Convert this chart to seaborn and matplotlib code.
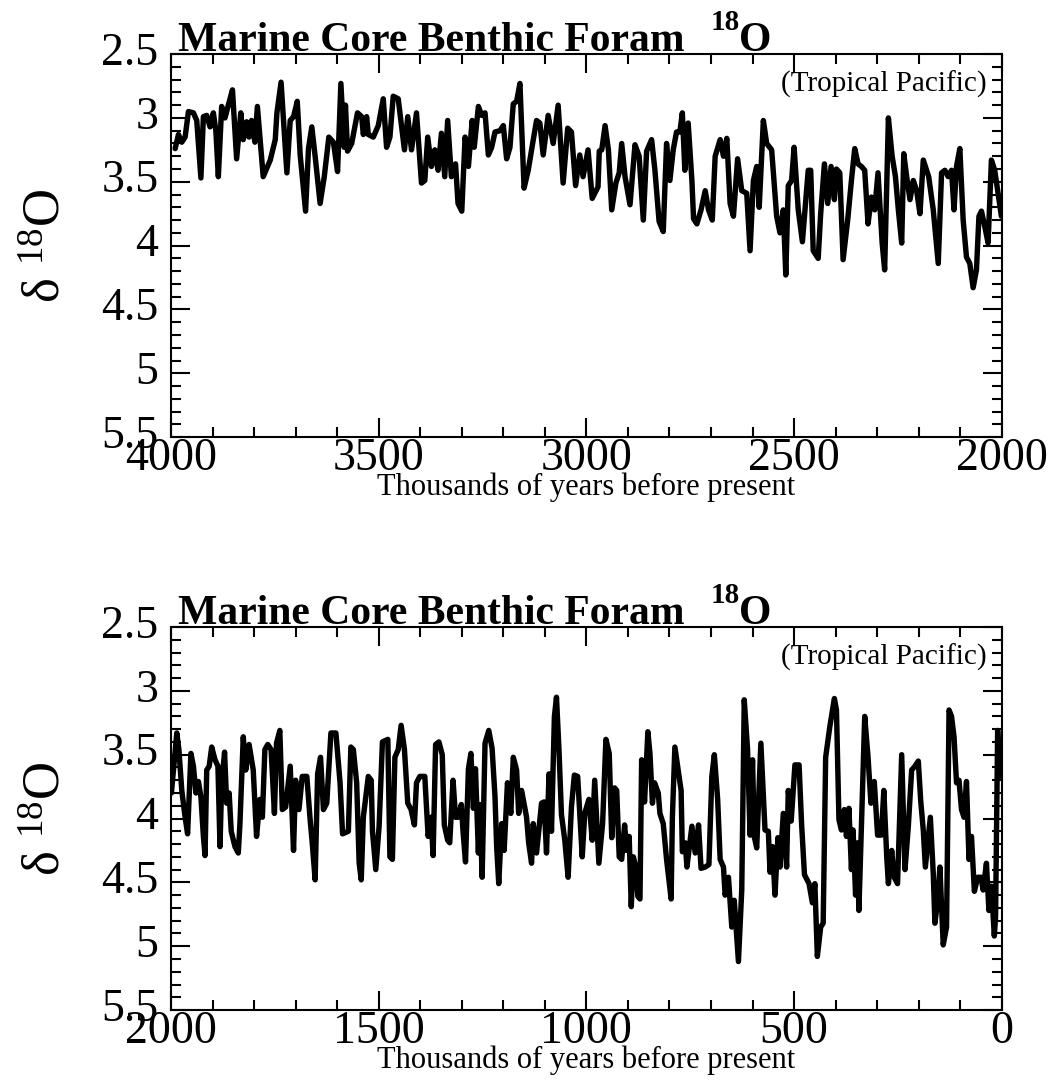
import matplotlib
matplotlib.use("Agg")
import matplotlib.pyplot as plt
import matplotlib.transforms as mtransforms
from matplotlib.ticker import MultipleLocator
import numpy as np
import pandas as pd
import seaborn as sns

# Benthic foraminifera d18O, older interval (thousands of years before present)
age_old = [3990, 3982, 3974, 3966, 3958, 3946, 3938, 3928, 3922, 3914, 3906, 3898, 3892, 3886,
           3878, 3870, 3862, 3852, 3842, 3832, 3826, 3818, 3812, 3806, 3798, 3792, 3786, 3778,
           3761, 3749, 3745, 3735, 3721, 3713, 3705, 3696, 3689, 3676, 3669, 3661, 3653, 3641,
           3631, 3620, 3609, 3599, 3591, 3583, 3580, 3575, 3565, 3551, 3541, 3537, 3529, 3525,
           3513, 3501, 3489,
           3481, 3473, 3465, 3453, 3438, 3430, 3421, 3409, 3397, 3389, 3382, 3373, 3365, 3357,
           3349, 3341, 3334, 3325, 3315, 3309, 3300, 3292, 3284, 3275, 3270, 3260, 3252, 3244,
           3236, 3228, 3220, 3208, 3200, 3192, 3184, 3176, 3168, 3160, 3150, 3140, 3132, 3120,
           3112, 3104, 3092, 3080, 3068, 3056, 3045, 3036, 3026, 3016, 3008, 2996, 2986, 2972,
           2969, 2963, 2955, 2947, 2939, 2929, 2921, 2915, 2907, 2895, 2883, 2873, 2863, 2855,
           2843, 2835, 2825, 2815, 2807, 2799, 2791, 2783, 2775, 2769, 2763, 2755, 2746, 2742,
           2734, 2724, 2714, 2706, 2697, 2690, 2678, 2670, 2662, 2654, 2646, 2636, 2626, 2614,
           2606, 2598, 2590, 2584, 2574, 2566, 2554, 2542, 2534, 2526, 2520, 2514, 2506, 2500,
           2490, 2480, 2466,
           2460, 2454, 2442, 2436, 2427, 2419, 2411, 2403, 2398, 2390, 2382, 2371, 2362, 2354,
           2346, 2338, 2330, 2322, 2314, 2306, 2298, 2288, 2282, 2273, 2264, 2256, 2249, 2241,
           2236, 2229, 2221, 2213, 2205, 2197, 2189, 2181, 2176, 2165, 2153, 2145, 2137, 2129,
           2121, 2115, 2109, 2101, 2093, 2085, 2077, 2069, 2061, 2055, 2049, 2041, 2033, 2025,
           2017, 2009, 2001]
d18o_old = [3.24, 3.13, 3.19, 3.15, 2.95, 2.96, 3.02, 3.47, 2.99, 2.98, 3.07, 2.96, 3.10, 3.46,
            2.91, 3.00, 2.90, 2.78, 3.32, 2.96, 3.17, 3.03, 3.15, 3.02, 3.19, 2.91, 3.15, 3.46,
            3.33, 3.17, 2.96, 2.72, 3.43, 3.02, 2.99, 2.87, 3.29, 3.73, 3.24, 3.07, 3.30, 3.67,
            3.46, 3.15, 3.19, 3.42, 2.73, 3.23, 2.90, 3.26, 3.20, 2.96, 2.99, 3.13, 2.99, 3.13,
            3.15, 3.06, 2.85,
            3.23, 3.15, 2.83, 2.85, 3.25, 2.99, 3.25, 2.96, 3.51, 3.49, 3.15, 3.38, 3.25, 3.41,
            3.12, 3.46, 3.02, 3.46, 3.36, 3.67, 3.73, 3.15, 3.38, 3.02, 3.23, 2.91, 2.98, 2.96,
            3.29, 3.23, 3.11, 3.10, 3.06, 3.32, 3.23, 2.89, 2.87, 2.73, 3.55, 3.41, 3.25, 3.02,
            3.04, 3.29, 2.98, 3.20, 2.90, 3.51, 3.08, 3.11, 3.53, 3.29, 3.46, 3.25, 3.63, 3.54,
            3.26, 3.25, 3.06, 3.25, 3.72, 3.51, 3.43, 3.20, 3.46, 3.68, 3.21, 3.30, 3.80, 3.26,
            3.17, 3.41, 3.81, 3.89, 3.20, 3.49, 3.25, 3.11, 3.11, 2.96, 3.41, 3.04, 3.49, 3.79,
            3.83, 3.72, 3.57, 3.72, 3.80, 3.30, 3.17, 3.30, 3.16, 3.67, 3.77, 3.32, 3.57, 3.59,
            4.04, 3.49, 3.38, 3.70, 3.02, 3.20, 3.25, 3.77, 3.90, 3.72, 4.23, 3.53, 3.49, 3.23,
            3.72, 3.97, 3.41,
            3.41, 4.04, 4.10, 3.75, 3.36, 3.67, 3.38, 3.64, 3.40, 3.43, 4.11, 3.80, 3.49, 3.24,
            3.36, 3.38, 3.41, 3.83, 3.62, 3.72, 3.43, 3.98, 4.19, 3.00, 3.30, 3.46, 3.72, 3.98,
            3.28, 3.46, 3.64, 3.49, 3.57, 3.75, 3.33, 3.41, 3.46, 3.72, 4.14, 3.43, 3.41, 3.46,
            3.41, 3.72, 3.38, 3.24, 3.80, 4.09, 4.14, 4.33, 4.19, 3.77, 3.73, 3.85, 3.98, 3.33,
            3.41, 3.59, 3.77]

# Benthic foraminifera d18O, younger interval
age_young = [1999, 1986, 1981, 1974, 1966, 1960, 1952, 1946, 1940, 1934, 1928, 1922, 1918, 1914,
             1908, 1902, 1894, 1887, 1882, 1878, 1871, 1866, 1860, 1855, 1846, 1838, 1834, 1826,
             1820, 1812, 1802, 1794, 1786, 1780, 1774, 1767, 1759, 1751, 1746, 1738, 1732, 1724,
             1713, 1705, 1700, 1692, 1684, 1673, 1665, 1660, 1653, 1647, 1640, 1633, 1625, 1615,
             1603, 1593, 1587, 1573, 1567, 1561, 1553, 1547, 1542, 1537, 1525, 1518, 1515, 1507,
             1499, 1491, 1478, 1473,
             1467, 1461, 1453, 1446, 1438, 1430, 1422, 1414, 1409, 1401, 1389, 1381, 1374, 1369,
             1363, 1355, 1347, 1342, 1334, 1329, 1321, 1315, 1309, 1301, 1297, 1291, 1284, 1278,
             1272, 1267, 1260, 1256, 1251, 1244, 1235, 1227, 1220, 1216, 1211, 1204, 1198, 1190,
             1182, 1176, 1168, 1163, 1156, 1144, 1139, 1132, 1128, 1120, 1108, 1102, 1096, 1090,
             1084, 1077, 1072, 1066, 1060, 1052, 1044, 1036, 1029, 1021, 1010, 1004, 994, 986,
             980, 970,
             961, 953, 945, 939, 932, 927, 921, 915, 908, 903, 897, 892, 887, 881, 876, 871, 867,
             860, 852, 847, 841, 836, 827, 823, 815, 807, 796, 793, 787, 779, 772, 769, 762, 758,
             746, 738, 730, 724, 714, 705, 698, 692, 684, 678, 670, 666, 658, 650, 644, 634, 626,
             620, 612, 606, 600, 596, 590, 580, 570, 562, 558, 552, 546, 539, 534, 526, 518, 514,
             507, 498, 488, 482, 475,
             464, 456, 450, 444, 436, 430, 424, 414, 403, 398, 392, 386, 379, 374, 368, 362, 358,
             352, 347, 344, 336, 330, 322, 315, 307, 299, 290, 284, 277, 273, 265, 259, 251, 241,
             233, 225, 217, 209, 201, 195, 189, 184, 179, 172, 165, 161, 155, 149, 141, 133, 127,
             121, 115, 109, 103, 97, 91, 85, 79, 73, 66, 58, 50, 45, 37, 31, 25, 18, 15, 10, 5]
d18o_young = [3.80, 3.33, 3.46, 3.78, 3.99, 4.12, 3.49, 3.59, 3.80, 3.71, 3.83, 4.14, 4.29, 3.62,
              3.59, 3.44, 3.54, 3.59, 4.22, 3.72, 3.48, 3.88, 3.80, 4.10, 4.22, 4.27, 4.04, 3.36,
              3.62, 3.42, 3.62, 4.14, 3.85, 3.99, 3.46, 3.42, 3.46, 3.96, 3.41, 3.31, 3.93, 3.91,
              3.59, 4.25, 3.70, 3.93, 3.67, 3.67, 4.01, 4.19, 4.48, 3.65, 3.52, 3.93, 3.88, 3.33,
              3.33, 3.72, 4.12, 4.10, 3.44, 3.46, 3.72, 4.35, 4.48, 3.99, 3.67, 3.70, 4.10, 4.40,
              4.06, 3.40, 3.38, 4.30,
              4.32, 3.52, 3.46, 3.27, 3.46, 3.88, 3.93, 4.05, 3.72, 3.67, 3.67, 4.14, 3.99, 4.29,
              3.42, 3.40, 3.50, 4.05, 4.17, 4.19, 3.70, 3.99, 3.99, 3.89, 4.10, 4.34, 3.61, 3.49,
              3.92, 3.61, 4.27, 3.89, 4.46, 3.41, 3.31, 3.45, 3.83, 4.22, 4.51, 4.04, 4.25, 3.72,
              3.96, 3.52, 3.62, 3.96, 3.78, 3.99, 4.19, 4.35, 4.04, 4.27, 3.88, 3.87, 4.27, 3.65,
              4.10, 3.20, 3.05, 3.46, 3.97, 4.17, 4.46, 3.91, 3.66, 3.67, 4.30, 3.96, 3.85, 4.17,
              3.70, 4.35,
              4.04, 3.38, 3.49, 4.15, 3.76, 3.78, 4.30, 4.32, 4.05, 4.25, 4.14, 4.69, 4.30, 4.38,
              4.61, 4.63, 3.54, 3.87, 3.32, 3.49, 3.88, 3.72, 3.80, 3.96, 4.04, 4.32, 4.63, 3.99,
              3.44, 3.62, 3.78, 4.26, 4.19, 4.38, 4.06, 4.27, 4.05, 4.39, 4.38, 4.36, 3.67, 3.50,
              3.85, 4.32, 4.38, 4.60, 4.46, 4.85, 4.64, 5.12, 4.56, 3.07, 3.46, 4.13, 3.54, 4.14,
              4.23, 3.41, 4.09, 4.10, 4.42, 4.22, 4.60, 4.15, 4.38, 3.96, 4.38, 3.78, 4.02, 3.58,
              3.58, 4.04, 4.44,
              4.51, 4.66, 4.51, 5.08, 4.85, 4.82, 3.52, 3.28, 3.06, 3.15, 4.01, 4.09, 3.93, 4.14,
              3.92, 4.40, 4.09, 4.60, 4.19, 4.72, 3.85, 3.20, 3.52, 3.88, 3.71, 4.13, 4.13, 3.78,
              4.30, 4.51, 4.25, 4.46, 4.51, 3.50, 4.40, 4.06, 3.62, 3.59, 3.55, 3.87, 4.09, 4.38,
              4.22, 3.99, 4.43, 4.82, 4.66, 4.38, 4.99, 4.85, 3.15, 3.20, 3.36, 3.72, 3.70, 3.93,
              3.99, 3.71, 4.32, 4.14, 4.57, 4.46, 4.46, 4.56, 4.35, 4.72, 4.53, 4.92, 4.77, 3.31,
              3.67]

x_ranges = [(4000, 2000), (2000, 0)]
y_ticks = [2.5, 3, 3.5, 4, 4.5, 5, 5.5]
y_ticklabels = ["2.5", "3", "3.5", "4", "4.5", "5", "5.5"]
title_main = "Marine Core Benthic Foram"
title_sup = "18"
title_tail = "O"
region_text = "(Tropical Pacific)"
x_label = "Thousands of years before present"
y_label = "δ $^{18}$O"

sns.set_style("ticks")
plt.rcParams["font.family"] = ["Liberation Serif", "DejaVu Serif"]
plt.rcParams["mathtext.default"] = "regular"
for key in ("text.color", "axes.labelcolor", "xtick.color", "ytick.color", "axes.edgecolor"):
    plt.rcParams[key] = "black"

fig = plt.figure(figsize=(10.49, 10.82), dpi=100)
frames = [
    pd.DataFrame({"age": age_old, "d18O": d18o_old}),
    pd.DataFrame({"age": age_young, "d18O": d18o_young}),
]
boxes = [[0.163, 0.596, 0.792, 0.354], [0.163, 0.0665, 0.792, 0.354]]
label_shift = mtransforms.ScaledTranslation(0, 4 / 72, fig.dpi_scale_trans)

for df, box, (x0, x1) in zip(frames, boxes, x_ranges):
    ax = fig.add_axes(box)
    sns.lineplot(data=df, x="age", y="d18O", ax=ax, color="black",
                 linewidth=3.9, estimator=None, sort=False)
    ax.set_xlim(x0, x1)
    ax.set_ylim(5.5, 2.5)
    ax.xaxis.set_major_locator(MultipleLocator(500))
    ax.xaxis.set_minor_locator(MultipleLocator(100))
    ax.set_yticks(y_ticks)
    ax.set_yticklabels(y_ticklabels)
    ax.yaxis.set_minor_locator(MultipleLocator(0.1))
    ax.tick_params(which="both", direction="in", top=True, right=True,
                   width=1.5, labelsize=33)
    ax.tick_params(which="major", length=14)
    ax.tick_params(which="minor", length=7)
    ax.tick_params(axis="x", pad=0)
    ax.tick_params(axis="y", pad=9)
    for lab in ax.get_yticklabels():
        lab.set_transform(lab.get_transform() + label_shift)
    for s in ax.spines.values():
        s.set_linewidth(1.5)
    ax.set_xlabel(x_label, fontsize=22, labelpad=-5)
    ax.set_ylabel(y_label, fontsize=38, labelpad=22)

    # bold title with a raised "18" before the O
    t = ax.text(0.008, 1.008, title_main, transform=ax.transAxes, fontsize=30,
                fontweight="bold", ha="left", va="baseline")
    sup = ax.annotate(title_sup, xy=(1, 0), xycoords=t, xytext=(19, 17),
                      textcoords="offset points", fontsize=21, fontweight="bold",
                      ha="left", va="bottom")
    ax.annotate(title_tail, xy=(1, 0), xycoords=(sup, t), xytext=(-1, 0),
                textcoords="offset points", fontsize=30, fontweight="bold",
                ha="left", va="bottom")

    ax.text(0.982, 0.922, region_text, transform=ax.transAxes, fontsize=21,
            ha="right", va="center")

fig.savefig("out.png", dpi=100, facecolor="white")
